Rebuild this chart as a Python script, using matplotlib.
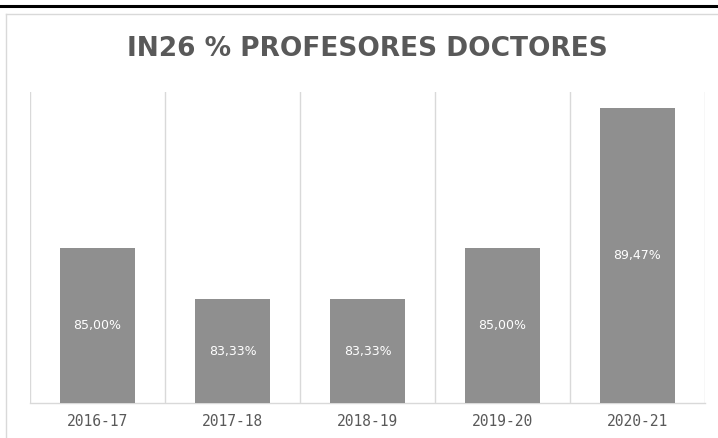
import matplotlib
matplotlib.use("Agg")
import matplotlib.pyplot as plt
from matplotlib.lines import Line2D

categories = ["2016-17", "2017-18", "2018-19", "2019-20", "2020-21"]
values = [85.00, 83.33, 83.33, 85.00, 89.47]
labels = ["85,00%", "83,33%", "83,33%", "85,00%", "89,47%"]
title = "IN26 % PROFESORES DOCTORES"

W, H = 718, 438
fig = plt.figure(figsize=(W / 100, H / 100), dpi=100)
fig.patch.set_facecolor("white")

# outer decorations
fig.add_artist(Line2D([0, 1], [1 - 6 / H, 1 - 6 / H], color="black", lw=2.2, transform=fig.transFigure))
fig.add_artist(Line2D([6 / W, 1], [1 - 14 / H, 1 - 14 / H], color="#d9d9d9", lw=1.0, transform=fig.transFigure))
fig.add_artist(Line2D([6 / W, 6 / W], [0, 1 - 14 / H], color="#d9d9d9", lw=1.0, transform=fig.transFigure))

left, right, top, bottom = 30, 705, 92, 403
ax = fig.add_axes([left / W, 1 - bottom / H, (right - left) / W, (bottom - top) / H])

x = list(range(len(categories)))
bars = ax.bar(x, values, width=0.56, color="#8f8f8f", zorder=3)
ax.set_xlim(-0.5, len(categories) - 0.5)
ax.set_ylim(80, 90)

for xi, v, lab in zip(x, values, labels):
    ax.text(xi, (80 + v) / 2, lab, ha="center", va="center", color="white",
            fontsize=9, family=["DejaVu Sans"], zorder=4)

for b in [i - 0.5 for i in range(len(categories) + 1)]:
    ax.axvline(b, color="#d9d9d9", lw=1.0, zorder=1)

for s in ["top", "left", "right"]:
    ax.spines[s].set_visible(False)
ax.spines["bottom"].set_color("#d9d9d9")
ax.spines["bottom"].set_linewidth(1.0)
ax.set_yticks([])
ax.set_xticks(x)
ax.set_xticklabels(categories, color="#595959", fontsize=10.5, family=["DejaVu Sans Mono"])
ax.tick_params(axis="x", length=0, pad=8)

fig.text(367 / W, 1 - 49 / H, title, ha="center", va="center", fontsize=19, fontweight="bold",
         color="#595959", family=["DejaVu Sans"])

fig.savefig("out.png", dpi=100)
